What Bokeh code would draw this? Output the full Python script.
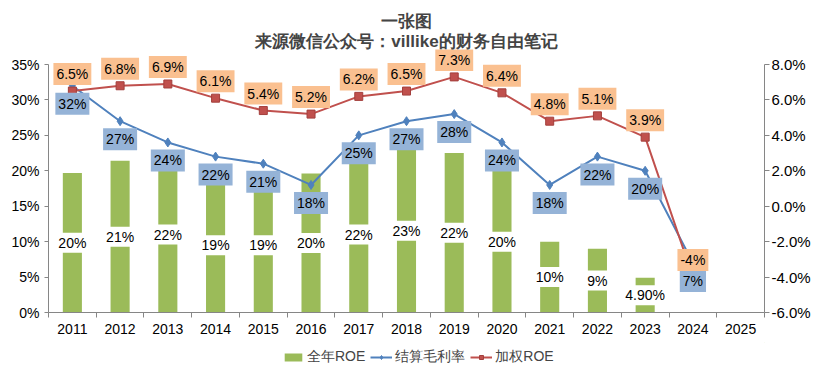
from bokeh.plotting import figure
from bokeh.layouts import column
from bokeh.models import (ColumnDataSource, LinearAxis, Range1d, FixedTicker,
                          Legend, LegendItem, Title)
from bokeh.core.properties import value
from bokeh.embed import file_html
from bokeh.resources import INLINE

years = ["2011", "2012", "2013", "2014", "2015", "2016", "2017", "2018",
         "2019", "2020", "2021", "2022", "2023", "2024", "2025"]
# 全年ROE (left axis, %)
roe_full = [19.7, 21.4, 22.0, 19.0, 19.0, 19.6, 22.0, 23.1, 22.5, 20.0, 10.0, 9.0, 4.9, None, None]
roe_full_labels = ["20%", "21%", "22%", "19%", "19%", "20%", "22%", "23%", "22%", "20%",
                   "10%", "9%", "4.90%", None, None]
# 结算毛利率 (left axis, %)
gross_margin = [32, 27, 24, 22, 21, 18, 25, 27, 28, 24, 18, 22, 20, 7, None]
gross_margin_labels = ["32%", "27%", "24%", "22%", "21%", "18%", "25%", "27%", "28%", "24%",
                       "18%", "22%", "20%", "7%", None]
# 加权ROE (right axis, %)
weighted_roe = [6.5, 6.8, 6.9, 6.1, 5.4, 5.2, 6.2, 6.5, 7.3, 6.4, 4.8, 5.1, 3.9, -4, None]
weighted_roe_labels = ["6.5%", "6.8%", "6.9%", "6.1%", "5.4%", "5.2%", "6.2%", "6.5%", "7.3%",
                       "6.4%", "4.8%", "5.1%", "3.9%", "-4%", None]

left_ticks = [0, 5, 10, 15, 20, 25, 30, 35]
left_tick_labels = ["0%", "5%", "10%", "15%", "20%", "25%", "30%", "35%"]
right_ticks = [-6, -4, -2, 0, 2, 4, 6, 8]
right_tick_labels = ["-6.0%", "-4.0%", "-2.0%", "0.0%", "2.0%", "4.0%", "6.0%", "8.0%"]

FONT = "Liberation Sans"
GREEN = "#9BBB59"
BLUE = "#4F81BD"
RED = "#C0504D"
AXIS = "#868686"

centers = [i + 0.5 for i in range(len(years))]

# layout geometry (pixels)
FRAME_TOP = 49
AXIS_TOP = 64
AXIS_BOTTOM = 312
extra = (AXIS_TOP - FRAME_TOP) / (AXIS_BOTTOM - AXIS_TOP)
L0, L1 = left_ticks[0], left_ticks[-1]
R0, R1 = right_ticks[0], right_ticks[-1]


def series(vals, labels):
    xs, ys, ts = [], [], []
    for x, v, t in zip(centers, vals, labels):
        if v is not None:
            xs.append(x)
            ys.append(v)
            ts.append(t)
    return xs, ys, ts


H1 = 342
p = figure(width=813, height=H1, output_backend="svg", toolbar_location=None,
           x_range=Range1d(0, len(years)),
           y_range=Range1d(L0, L1 + (L1 - L0) * extra),
           min_border_left=48, min_border_right=42, min_border_top=FRAME_TOP,
           min_border_bottom=H1 - AXIS_BOTTOM)
p.extra_y_ranges = {"right": Range1d(R0, R1 + (R1 - R0) * extra)}
p.outline_line_color = None
p.xgrid.visible = False
p.ygrid.visible = False
p.background_fill_color = "white"
p.border_fill_color = "white"

# bars
bx, by, bt = series(roe_full, roe_full_labels)
bar_src = ColumnDataSource(dict(x=bx, top=by, mid=[v / 2 for v in by], text=bt))
p.vbar(x="x", top="top", width=0.4, source=bar_src, fill_color=GREEN, line_color=None)
p.text(x="x", y="mid", text="text", source=bar_src, text_align="center",
       text_baseline="middle", text_font=value(FONT), text_font_size="14px",
       text_color="black", background_fill_color="white", padding=2)

# gross margin line
gx, gy, gt = series(gross_margin, gross_margin_labels)
g_src = ColumnDataSource(dict(x=gx, y=gy, text=gt))
p.line("x", "y", source=g_src, line_color=BLUE, line_width=2)
p.scatter("x", "y", source=g_src, marker="diamond", size=9, fill_color=BLUE, line_color=BLUE)

# weighted ROE line
rx, ry, rt = series(weighted_roe, weighted_roe_labels)
r_src = ColumnDataSource(dict(x=rx, y=ry, text=rt))
p.line("x", "y", source=r_src, line_color=RED, line_width=2, y_range_name="right")
p.scatter("x", "y", source=r_src, marker="square", size=8, fill_color=RED,
          line_color="#A33F3C", y_range_name="right")

p.text(x="x", y="y", text="text", source=g_src, text_align="center",
       text_baseline="middle", y_offset=18, text_font=value(FONT),
       text_font_size="14px", text_color="black",
       background_fill_color="#95B3D7", padding=3)
p.text(x="x", y="y", text="text", source=r_src, text_align="center",
       text_baseline="middle", y_offset=-17, text_font=value(FONT),
       text_font_size="14px", text_color="black",
       background_fill_color="#FAC090", padding=3, y_range_name="right")

# x axis
xa = p.xaxis[0]
xa.ticker = FixedTicker(ticks=centers, minor_ticks=list(range(len(years) + 1)))
xa.major_label_overrides = {c: y for c, y in zip(centers, years)}
xa.major_tick_line_color = None
xa.major_tick_out = 0
xa.major_tick_in = 0
xa.minor_tick_out = 5
xa.minor_tick_in = 0
xa.minor_tick_line_color = AXIS
xa.axis_line_color = AXIS
xa.major_label_standoff = 6
xa.major_label_text_font = FONT
xa.major_label_text_font_size = "14px"
xa.major_label_text_color = "black"

# left axis
ya = p.yaxis[0]
ya.ticker = FixedTicker(ticks=left_ticks, minor_ticks=[])
ya.bounds = (L0, L1)
ya.major_label_overrides = {t: l for t, l in zip(left_ticks, left_tick_labels)}
ya.axis_line_color = AXIS
ya.major_tick_line_color = AXIS
ya.major_tick_out = 4
ya.major_tick_in = 0
ya.minor_tick_line_color = None
ya.major_label_standoff = 5
ya.major_label_text_font = FONT
ya.major_label_text_font_size = "14px"
ya.major_label_text_color = "black"

# right axis
ra = LinearAxis(y_range_name="right", bounds=(R0, R1),
                ticker=FixedTicker(ticks=right_ticks, minor_ticks=[]))
ra.major_label_overrides = {t: l for t, l in zip(right_ticks, right_tick_labels)}
ra.axis_line_color = AXIS
ra.major_tick_line_color = AXIS
ra.major_tick_out = 5
ra.major_tick_in = 0
ra.minor_tick_line_color = None
ra.major_label_standoff = 2
ra.major_label_text_font = FONT
ra.major_label_text_font_size = "15px"
ra.major_label_text_color = "black"
p.add_layout(ra, "right")

# titles
p.add_layout(Title(text="来源微信公众号：villike的财务自由笔记", align="center",
                   text_font_size="17px", text_font_style="bold", text_font=FONT,
                   standoff=-2, offset=5), "above")
p.add_layout(Title(text="一张图", align="center", text_font_size="17px",
                   text_font_style="bold", text_font=FONT, standoff=0, offset=5), "above")

# legend (separate strip below the chart); proxies sit outside the strip's visible range
H2 = 28
lg = figure(width=813, height=H2, output_backend="svg", toolbar_location=None,
            x_axis_type=None, y_axis_type=None, x_range=Range1d(-2, -1), y_range=Range1d(-2, -1),
            min_border_left=0, min_border_right=0, min_border_top=0, min_border_bottom=0)
lg.outline_line_color = None
lg.xgrid.visible = False
lg.ygrid.visible = False
lg.border_fill_color = "white"
lg.background_fill_color = "white"
lb = lg.vbar(x=bx[:1], top=by[:1], width=0.4, fill_color=GREEN, line_color=None)
ll1 = lg.line(x=gx[:2], y=gy[:2], line_color=BLUE, line_width=2)
lm1 = lg.scatter(x=gx[:1], y=gy[:1], marker="diamond", size=9, fill_color=BLUE,
                 line_color=BLUE)
ll2 = lg.line(x=rx[:2], y=ry[:2], line_color=RED, line_width=2)
lm2 = lg.scatter(x=rx[:1], y=ry[:1], marker="square", size=8, fill_color=RED,
                 line_color="#A33F3C")
legend = Legend(items=[LegendItem(label="全年ROE", renderers=[lb]),
                       LegendItem(label="结算毛利率", renderers=[ll1, lm1]),
                       LegendItem(label="加权ROE", renderers=[ll2, lm2])],
                orientation="horizontal", location=(234, 4), border_line_color=None,
                background_fill_alpha=0, label_text_font=FONT, label_text_font_size="14px",
                glyph_width=22, glyph_height=10, spacing=5, label_standoff=3, padding=0,
                margin=0, label_height=17)
lg.add_layout(legend, "center")

layout = column(p, lg, spacing=0)
open("out.html", "w").write(file_html(layout, INLINE))
